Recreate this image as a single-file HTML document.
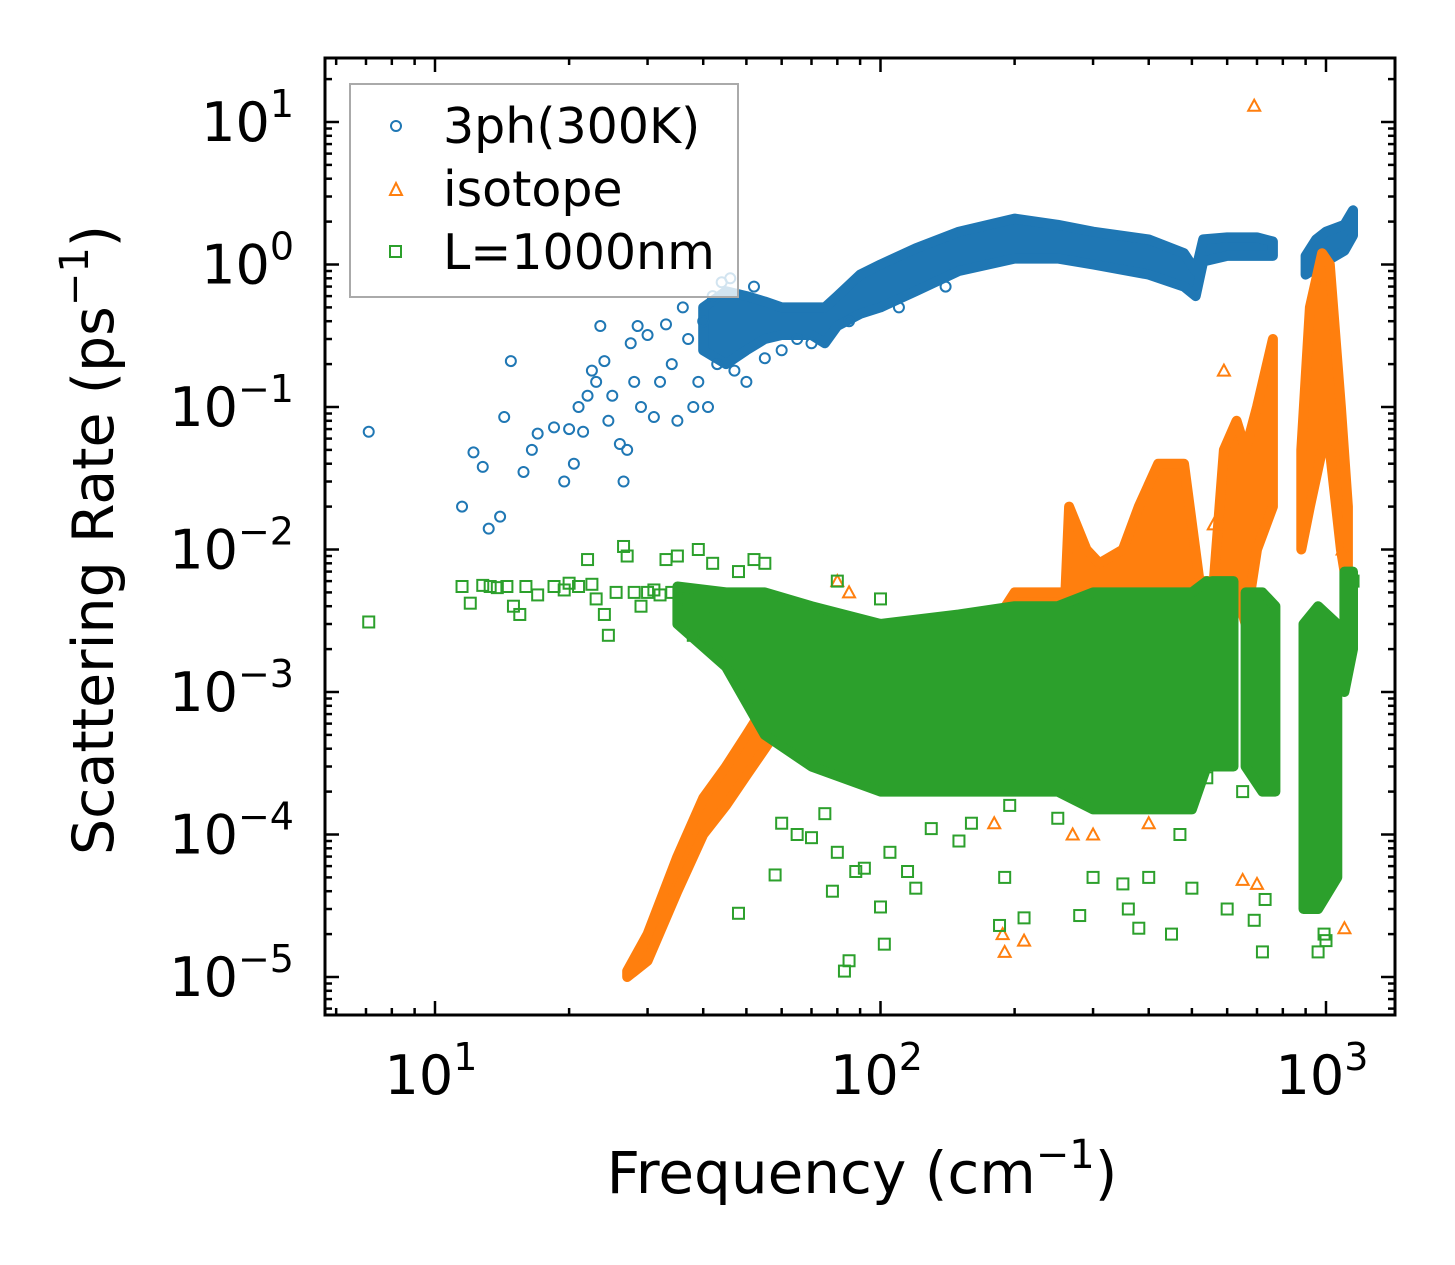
<!DOCTYPE html>
<html><head><meta charset="utf-8"><style>
html,body{margin:0;padding:0;background:#fff;}
svg{display:block;font-family:"DejaVu Sans","Liberation Sans",sans-serif;}
</style></head><body>
<svg id="chart" width="1455" height="1265" viewBox="0 0 1455 1265" xmlns="http://www.w3.org/2000/svg">
<rect width="1455" height="1265" fill="#fff"/>
<g id="plot"></g>
<g id="axes"></g>
<text x="862" y="1193" font-size="58" text-anchor="middle">Frequency (cm<tspan dy="-25" font-size="40">−1</tspan><tspan dy="25">)</tspan></text>
<text transform="translate(113,540) rotate(-90)" font-size="57" text-anchor="middle">Scattering Rate (ps<tspan dy="-25" font-size="40">−1</tspan><tspan dy="25">)</tspan></text>
<g>
<rect x="350" y="84" width="388" height="213" fill="#fff" fill-opacity="0.8" stroke="#aaa" stroke-width="2"/>
<circle cx="396" cy="126" r="5" fill="none" stroke="#1f77b4" stroke-width="2"/>
<text x="443" y="143" font-size="49">3ph(300K)</text>
<path d="M390,195 L396,183 L402,195 Z" fill="none" stroke="#ff7f0e" stroke-width="2"/>
<text x="443" y="206" font-size="49">isotope</text>
<rect x="390" y="246" width="11" height="11" fill="none" stroke="#2ca02c" stroke-width="2"/>
<text x="443" y="269" font-size="49">L=1000nm</text>
</g>
</svg>
<script>
// ---- data ----
const xTickValues=[10,100,1000];
const xTickExp=["1","2","3"];
const yTickValues=[10,1,0.1,0.01,0.001,0.0001,0.00001];
const yTickExp=["1","0","−1","−2","−3","−4","−5"];
// dense band envelopes [x, low, high]
const blueBands=[
 [[40,0.25,0.5],[45,0.2,0.65],[50,0.25,0.6],[55,0.3,0.55],[60,0.32,0.5],[70,0.32,0.5],[75,0.28,0.5],[80,0.37,0.6],[90,0.45,0.85],[100,0.5,1.0],[120,0.65,1.3],[150,0.9,1.7],[200,1.1,2.1],[250,1.1,1.9],[300,1.0,1.7],[400,0.85,1.5],[480,0.7,1.2],[510,0.6,0.9],[530,1.05,1.5],[600,1.15,1.55],[700,1.15,1.55],[760,1.15,1.45]],
 [[900,0.85,1.15],[950,0.95,1.5],[1000,1.05,1.7],[1100,1.25,1.9],[1150,1.6,2.4]]
];
const orangeBands=[
 [[27,1e-5,1.1e-5],[30,1.3e-5,2e-5],[35,4e-5,7e-5],[40,1e-4,1.8e-4],[45,1.6e-4,3e-4],[50,2.6e-4,5e-4],[55,4e-4,8e-4],[60,6e-4,2e-3],[100,1e-3,3e-3],[180,1e-3,3e-3],[200,1e-3,5e-3],[260,1e-3,5e-3],[265,2e-3,2e-2],[290,2e-3,1e-2],[310,3e-3,8e-3],[350,3e-3,1e-2],[380,3e-3,2e-2],[420,4e-3,4e-2],[480,5e-3,4e-2],[520,3e-3,6e-3],[560,3e-3,6e-3],[590,5e-3,0.05],[630,5e-3,0.08],[660,3e-3,0.05],[700,0.01,0.1],[760,0.02,0.3]],
 [[880,0.01,0.05],[920,0.02,0.5],[980,0.05,1.2],[1020,0.05,1.0],[1080,0.01,0.1],[1120,0.005,0.02]]
];
const greenBands=[
 [[35,3e-3,5.5e-3],[45,1.5e-3,5e-3],[55,5e-4,5e-3],[70,3e-4,4e-3],[100,2e-4,3e-3],[150,2e-4,3.5e-3],[200,2e-4,4e-3],[250,2e-4,4e-3],[300,1.5e-4,5e-3],[400,1.5e-4,5e-3],[500,1.5e-4,5e-3],[540,3e-4,6e-3]],
 [[555,3e-4,6e-3],[620,3e-4,6e-3]],
 [[660,3e-4,5e-3],[720,2e-4,5e-3],[770,2e-4,4e-3]],
 [[890,3e-5,3e-3],[960,3e-5,4e-3],[1060,5e-5,3e-3]],
 [[1100,1e-3,7e-3],[1150,2e-3,7e-3]]
];
// scattered points [x, y]
const bluePoints=[[7.1,0.067],[11.5,0.02],[12.2,0.048],[12.8,0.038],[13.2,0.014],[14,0.017],[14.3,0.085],[14.8,0.21],[15.8,0.035],[16.5,0.05],[17,0.065],[18.5,0.072],[19.5,0.03],[20,0.07],[20.5,0.04],[21,0.1],[21.5,0.067],[22,0.12],[22.5,0.18],[23,0.15],[23.5,0.37],[24,0.21],[24.5,0.08],[25,0.12],[26,0.055],[26.5,0.03],[27,0.05],[27.5,0.28],[28,0.15],[28.5,0.37],[29,0.1],[30,0.32],[31,0.085],[32,0.15],[33,0.38],[34,0.2],[35,0.08],[36,0.5],[37,0.3],[38,0.1],[40,0.4],[42,0.6],[44,0.75],[46,0.8],[39,0.15],[41,0.1],[52,0.7],[60,0.25],[65,0.3],[43,0.2],[47,0.18],[50,0.15],[55,0.22],[70,0.28],[85,0.4],[110,0.5],[140,0.7]];
const orangePoints=[[690,13],[80,6e-3],[85,5e-3],[190,1.5e-5],[188,2e-5],[210,1.8e-5],[270,1e-4],[300,1e-4],[590,0.18],[700,4.5e-5],[1100,2.2e-5],[650,4.8e-5],[180,1.2e-4],[400,1.2e-4],[560,0.015],[1090,0.01],[1130,3e-3]];
const greenPoints=[[7.1,3.1e-3],[11.5,5.5e-3],[12,4.2e-3],[12.8,5.6e-3],[13.3,5.5e-3],[13.8,5.4e-3],[14.5,5.5e-3],[15,4e-3],[15.5,3.5e-3],[16,5.5e-3],[17,4.8e-3],[18.5,5.5e-3],[19.5,5.2e-3],[20,5.8e-3],[21,5.5e-3],[22,8.5e-3],[22.5,5.7e-3],[23,4.5e-3],[24,3.5e-3],[24.5,2.5e-3],[25.5,5e-3],[26.5,10.5e-3],[27,9e-3],[28,5e-3],[29,4e-3],[30,5e-3],[31,5.2e-3],[32,4.8e-3],[33,8.5e-3],[34,5e-3],[35,9e-3],[36,4.5e-3],[38,2.5e-3],[39,10e-3],[40,4e-3],[42,8e-3],[45,4e-3],[48,7e-3],[50,3e-3],[52,8.5e-3],[55,8e-3],[48,2.8e-5],[58,5.2e-5],[65,1e-4],[70,9.5e-5],[75,1.4e-4],[78,4e-5],[80,7.5e-5],[83,1.1e-5],[85,1.3e-5],[88,5.5e-5],[92,5.8e-5],[100,3.1e-5],[102,1.7e-5],[105,7.5e-5],[115,5.5e-5],[120,4.2e-5],[130,1.1e-4],[150,9e-5],[160,1.2e-4],[185,2.3e-5],[190,5e-5],[195,1.6e-4],[210,2.6e-5],[230,2.5e-4],[280,2.7e-5],[300,5e-5],[350,4.5e-5],[360,3e-5],[380,2.2e-5],[400,5e-5],[450,2e-5],[500,4.2e-5],[600,3e-5],[690,2.5e-5],[720,1.5e-5],[730,3.5e-5],[960,1.5e-5],[990,2e-5],[1000,1.8e-5],[80,6e-3],[100,4.5e-3],[60,1.2e-4],[250,1.3e-4],[470,1e-4],[540,2.5e-4],[650,2e-4],[1150,6e-3]];
// ---- axes functions ----
const L=325,R=1395,T=58,B=1015;
function xs(v){return 435+(Math.log10(v)-1)*445.5;}
function ys(v){return 122-(Math.log10(v)-1)*142.5;}
const NS="http://www.w3.org/2000/svg";
const plot=document.getElementById('plot'),axes=document.getElementById('axes');
function mk(tag,attrs,parent){const e=document.createElementNS(NS,tag);for(const k in attrs)e.setAttribute(k,attrs[k]);parent.appendChild(e);return e;}
const clip=mk('clipPath',{id:'clp'},mk('defs',{},plot));mk('rect',{x:L,y:T,width:R-L,height:B-T},clip);
plot.setAttribute('clip-path','url(#clp)');
function drawBands(bands,color,name){
 bands.forEach((seg,i)=>{
  let top=seg.map(p=>xs(p[0]).toFixed(1)+','+ys(p[2]).toFixed(1));
  let bot=seg.slice().reverse().map(p=>xs(p[0]).toFixed(1)+','+ys(p[1]).toFixed(1));
  const e=mk('polygon',{points:top.concat(bot).join(' '),fill:color,stroke:color,'stroke-width':10,'stroke-linejoin':'round'},plot);
  
  
 });
}
function drawPoints(pts,color,shape,name){
 pts.forEach((p,i)=>{
  const x=xs(p[0]),y=ys(p[1]);let e;
  if(shape==='c')e=mk('circle',{cx:x,cy:y,r:5,fill:'none',stroke:color,'stroke-width':2},plot);
  else if(shape==='t')e=mk('path',{d:`M${x-6},${y+5}L${x},${y-6}L${x+6},${y+5}Z`,fill:'none',stroke:color,'stroke-width':2},plot);
  else e=mk('rect',{x:x-5.5,y:y-5.5,width:11,height:11,fill:'none',stroke:color,'stroke-width':2},plot);
  
  
 });
}
drawBands(blueBands,'#1f77b4','3ph');drawPoints(bluePoints,'#1f77b4','c','3ph');
drawBands(orangeBands,'#ff7f0e','isotope');drawPoints(orangePoints,'#ff7f0e','t','isotope');
drawBands(greenBands,'#2ca02c','boundary');drawPoints(greenPoints,'#2ca02c','s','boundary');
// frame
const fr=mk('rect',{x:L,y:T,width:R-L,height:B-T,fill:'none',stroke:'#000','stroke-width':3},axes);


// ticks
function tick(x1,y1,x2,y2){mk('line',{x1,y1,x2,y2,stroke:'#000','stroke-width':2.5},axes);}
for(let d=0;d<=3;d++){for(let m=1;m<=9;m++){const v=m*Math.pow(10,d);const x=xs(v);if(x<L||x>R)continue;const len=m===1?14:7;tick(x,B,x,B-len);tick(x,T,x,T+len);}}
for(let d=-6;d<=1;d++){for(let m=1;m<=9;m++){const v=m*Math.pow(10,d);const y=ys(v);if(y<T||y>B)continue;const len=m===1?14:7;tick(L,y,L+len,y);tick(R,y,R-len,y);}}
xTickValues.forEach((v,i)=>{const t=mk('text',{x:xs(v)-4,y:1094,'font-size':54,'text-anchor':'middle'},axes);t.innerHTML='10<tspan dy="-24" font-size="38">'+xTickExp[i]+'</tspan>';
 
 });
yTickValues.forEach((v,i)=>{const t=mk('text',{x:294,y:ys(v)+19,'font-size':54,'text-anchor':'end'},axes);t.innerHTML='10<tspan dy="-24" font-size="38">'+yTickExp[i]+'</tspan>';
 
 });
</script>
</body></html>
